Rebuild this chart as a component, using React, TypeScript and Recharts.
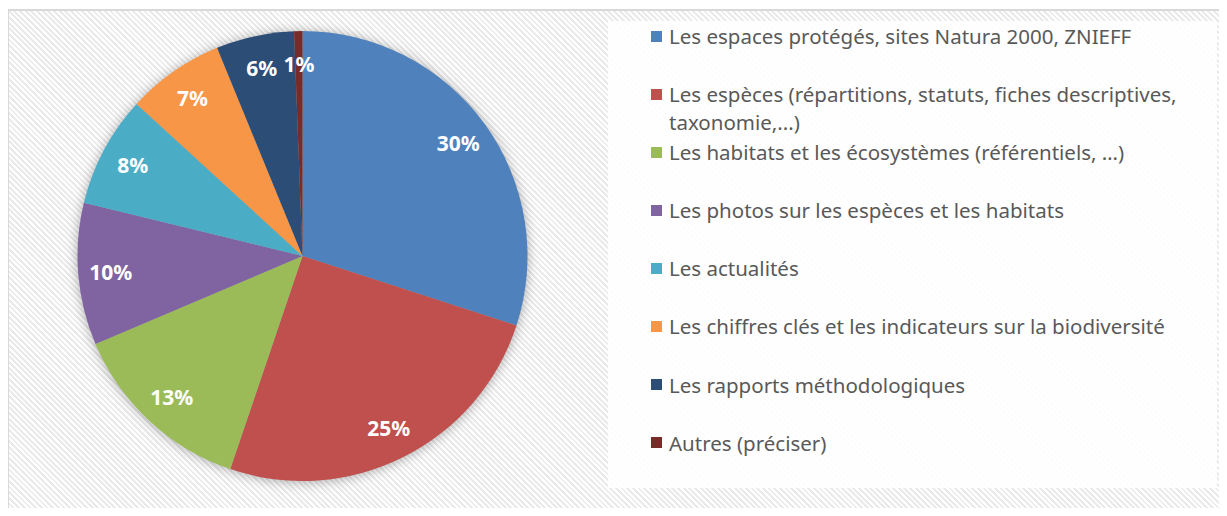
import React from 'react';
import { PieChart, Pie, Cell, Legend } from 'recharts';

const categories = [
  'Les espaces protégés, sites Natura 2000, ZNIEFF',
  'Les espèces (répartitions, statuts, fiches descriptives, taxonomie,...)',
  'Les habitats et les écosystèmes (référentiels, …)',
  'Les photos sur les espèces et les habitats',
  'Les actualités',
  'Les chiffres clés et les indicateurs sur la biodiversité',
  'Les rapports méthodologiques',
  'Autres (préciser)',
];
const values = [30.0, 25.2, 13.4, 10.2, 8.0, 7.0, 5.6, 0.6];
const colors = ['#4F81BD', '#C0504D', '#9BBB59', '#8064A2', '#4BACC6', '#F79646', '#2C4D75', '#772C2A'];

const data = categories.map((name, i) => ({ name, value: values[i] }));

const RAD = Math.PI / 180;

const renderLabel = (props: any) => {
  const { cx, cy, midAngle, outerRadius, value } = props;
  const r = outerRadius * 0.855;
  const x = cx + r * Math.cos(-midAngle * RAD);
  const y = cy + r * Math.sin(-midAngle * RAD);
  return (
    <text
      x={x}
      y={y}
      fill="#ffffff"
      textAnchor="middle"
      dominantBaseline="central"
      style={{ fontFamily: "'Noto Sans', sans-serif", fontWeight: 700, fontSize: 21 }}
    >
      {`${Math.round(value)}%`}
    </text>
  );
};

const LegendContent = () => (
  <div
    style={{
      width: 609,
      height: 467,
      background: 'rgba(255,255,255,0.88)',
      boxSizing: 'border-box',
      paddingTop: 1,
      fontFamily: "'Noto Sans', sans-serif",
      fontSize: 20.5,
      color: '#595959',
    }}
  >
    {data.map((d, i) => (
      <div key={d.name} style={{ position: 'relative', height: 58.1 }}>
        <div
          style={{
            position: 'absolute',
            left: 43,
            top: 8.5,
            width: 11,
            height: 11,
            background: colors[i],
          }}
        />
        <div
          style={{
            position: 'absolute',
            left: 61,
            top: 0,
            width: 535,
            lineHeight: '28px',
            whiteSpace: 'normal',
          }}
        >
          {d.name}
        </div>
      </div>
    ))}
  </div>
);

export default function App() {
  return (
    <div style={{ position: 'relative', width: 1219, height: 500 }}>
      <style>{`html,body{overflow:hidden} .recharts-pie{filter:drop-shadow(0px 1px 6px rgba(0,0,0,0.32));}`}</style>
      <div
        style={{
          position: 'absolute',
          left: -1,
          top: 1,
          width: 1220,
          height: 510,
          boxSizing: 'border-box',
          borderTop: '2px solid #d9d9d9',
          borderLeft: '2px solid #d9d9d9',
          background:
            'repeating-linear-gradient(45deg, #ffffff 0px, #ffffff 2px, #eaeaea 2px, #eaeaea 4px)',
        }}
      />
      <div style={{ position: 'absolute', left: 0, top: 0 }}>
        <PieChart width={1219} height={508} margin={{ top: 0, right: 0, bottom: 0, left: 0 }}>
          <Pie
            data={data}
            dataKey="value"
            nameKey="name"
            cx={294.5}
            cy={248}
            outerRadius={225}
            startAngle={90}
            endAngle={-270}
            stroke="none"
            labelLine={false}
            label={renderLabel}
            isAnimationActive={false}
          >
            {data.map((d, i) => (
              <Cell key={d.name} fill={colors[i]} />
            ))}
          </Pie>
          <Legend
            content={<LegendContent />}
            wrapperStyle={{ position: 'absolute', left: 600, top: 13, width: 609, height: 467 }}
          />
        </PieChart>
      </div>
    </div>
  );
}
